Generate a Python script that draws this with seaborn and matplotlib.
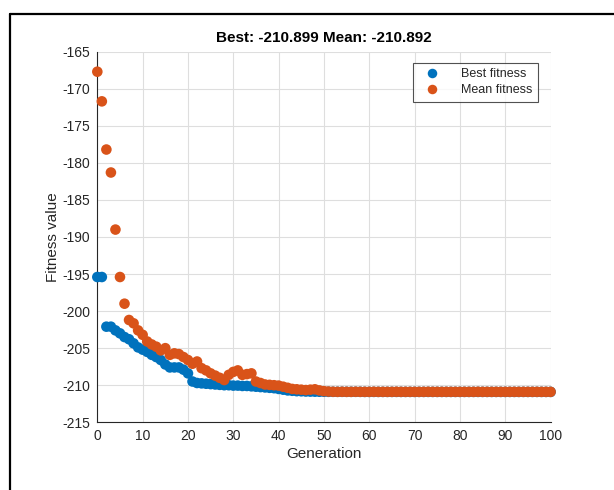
import pandas as pd
import seaborn as sns
import matplotlib
import matplotlib.pyplot as plt
from matplotlib.lines import Line2D

matplotlib.use("Agg")

# Data
generations = list(range(101))

best_fitness = [
    -195.4, -195.4, -202.1, -202.1, -202.6, -203.0, -203.5, -203.8, -204.35, -204.9,
    -205.2, -205.5, -205.9, -206.2, -206.6, -207.2, -207.6, -207.6, -207.6, -207.9,
    -208.4, -209.5, -209.7, -209.75, -209.8, -209.85, -209.9, -209.95, -210.0, -210.0,
    -210.05, -210.05, -210.1, -210.1, -210.15, -210.2, -210.25, -210.3, -210.35, -210.4,
    -210.5, -210.6, -210.7, -210.75, -210.8, -210.82, -210.85, -210.86, -210.87, -210.88,
    -210.88, -210.89, -210.89, -210.89, -210.89, -210.89, -210.89, -210.89, -210.89, -210.899,
    -210.899, -210.899, -210.899, -210.899, -210.899, -210.899, -210.899, -210.899, -210.899, -210.899,
    -210.899, -210.899, -210.899, -210.899, -210.899, -210.899, -210.899, -210.899, -210.899, -210.899,
    -210.899, -210.899, -210.899, -210.899, -210.899, -210.899, -210.899, -210.899, -210.899, -210.899,
    -210.899, -210.899, -210.899, -210.899, -210.899, -210.899, -210.899, -210.899, -210.899, -210.899,
    -210.899,
]

mean_fitness = [
    -167.7, -171.7, -178.2, -181.3, -189.0, -195.4, -199.0, -201.2, -201.65, -202.6,
    -203.2, -204.1, -204.5, -204.8, -205.3, -205.0, -205.9, -205.7, -205.8, -206.2,
    -206.6, -207.1, -206.8, -207.7, -208.0, -208.4, -208.7, -209.0, -209.3, -208.6,
    -208.2, -208.0, -208.6, -208.5, -208.4, -209.5, -209.7, -209.9, -209.95, -210.0,
    -210.05, -210.2, -210.35, -210.5, -210.55, -210.6, -210.65, -210.6, -210.55, -210.7,
    -210.8, -210.85, -210.88, -210.89, -210.88, -210.89, -210.89, -210.88, -210.89, -210.89,
    -210.89, -210.88, -210.89, -210.89, -210.89, -210.89, -210.88, -210.89, -210.89, -210.89,
    -210.89, -210.89, -210.89, -210.88, -210.89, -210.89, -210.89, -210.89, -210.89, -210.89,
    -210.89, -210.89, -210.89, -210.89, -210.88, -210.89, -210.89, -210.89, -210.89, -210.89,
    -210.89, -210.89, -210.89, -210.89, -210.89, -210.89, -210.89, -210.89, -210.89, -210.892,
    -210.892,
]

x_ticks = list(range(0, 101, 10))
y_ticks = list(range(-215, -164, 5))

title = "Best: -210.899 Mean: -210.892"

# Long-form table for seaborn
df = pd.DataFrame({
    "Generation": generations * 2,
    "Fitness value": best_fitness + mean_fitness,
    "series": ["Best fitness"] * len(best_fitness) + ["Mean fitness"] * len(mean_fitness),
})

sns.set_style("white")
plt.rcParams["font.family"] = ["Liberation Sans", "DejaVu Sans"]
plt.rcParams["axes.unicode_minus"] = False

fig = plt.figure(figsize=(6.14, 4.9), dpi=100)
ax = fig.add_axes([0.1585, 0.1382, 0.7382, 0.7563])

sns.scatterplot(
    data=df, x="Generation", y="Fitness value", hue="series",
    palette={"Best fitness": "#0072BD", "Mean fitness": "#D95319"},
    s=58, linewidth=0, ax=ax, zorder=3, clip_on=False,
)

ax.set_xlim(0, 100)
ax.set_ylim(-215, -165)
ax.set_xticks(x_ticks)
ax.set_yticks(y_ticks)
ax.grid(True, color="#dedede", linewidth=0.8, zorder=0)
ax.set_axisbelow(True)

for side in ["top", "right"]:
    ax.spines[side].set_visible(False)
for side in ["left", "bottom"]:
    ax.spines[side].set_color("#262626")
    ax.spines[side].set_linewidth(0.8)

ax.tick_params(direction="in", length=4, width=0.8, colors="#262626",
               labelsize=10, labelcolor="#262626", pad=5)

ax.set_xlabel("Generation", fontsize=11, color="#262626", labelpad=3)
ax.set_ylabel("Fitness value", fontsize=11, color="#262626", labelpad=2)
ax.set_title(title, fontsize=11, fontweight="bold", color="black", pad=7)

leg = ax.legend(loc="upper right", bbox_to_anchor=(0.972, 0.97), borderaxespad=0,
                fontsize=9, frameon=True, fancybox=False, handletextpad=1.2,
                handlelength=2.2, borderpad=0.45, labelspacing=0.3, markerscale=0.9)
leg.get_frame().set_edgecolor("#262626")
leg.get_frame().set_linewidth(0.8)

# Window frame edges (left and top)
fig.add_artist(Line2D([10 / 614, 10 / 614], [0, 1 - 14 / 490], color="black", linewidth=1.6))
fig.add_artist(Line2D([10 / 614, 1], [1 - 14 / 490, 1 - 14 / 490], color="black", linewidth=1.6))

plt.savefig("out.png", dpi=100)
plt.close()
